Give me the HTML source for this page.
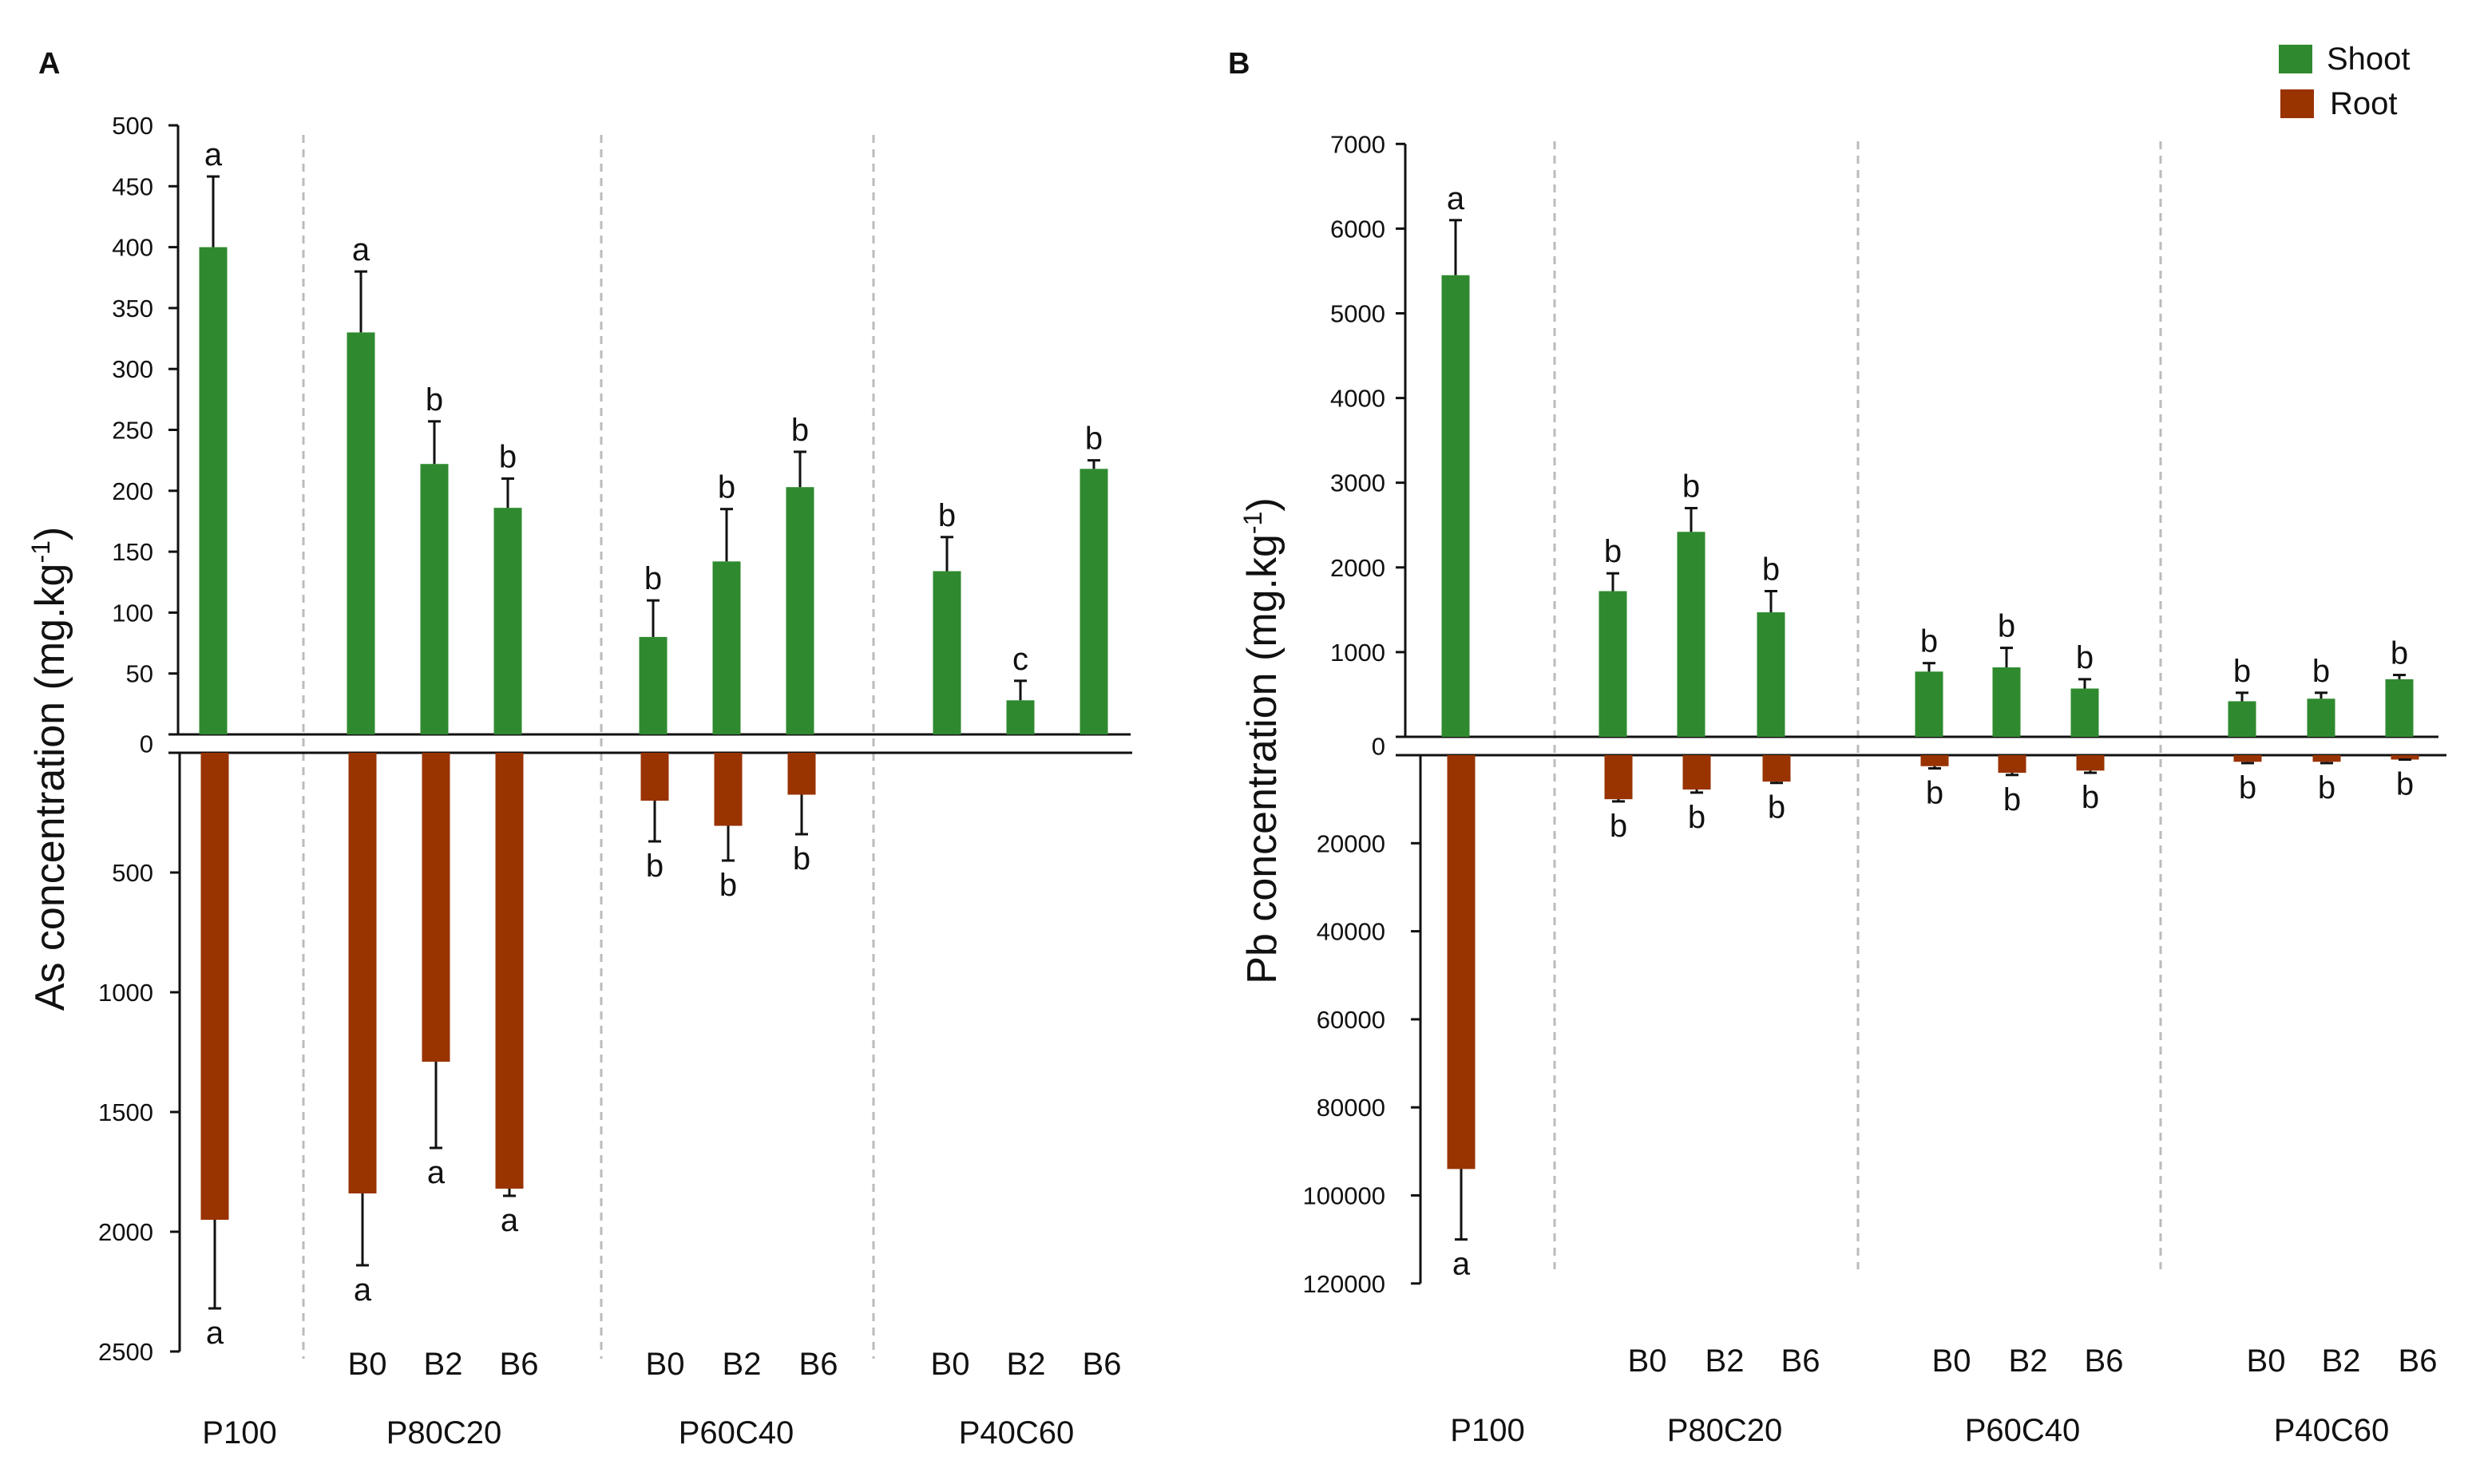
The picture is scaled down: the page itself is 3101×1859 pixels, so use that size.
<!DOCTYPE html>
<html><head><meta charset="utf-8"><style>
html,body{margin:0;padding:0;background:#fff}
svg{display:block;font-family:"Liberation Sans",sans-serif}
</style></head><body>
<svg id="chart" width="3101" height="1859" viewBox="0 0 3101 1859"></svg>
<script>
const groups = ["P100","P80C20","P60C40","P40C60"];
const treatments = ["", "B0","B2","B6","B0","B2","B6","B0","B2","B6"];
const asShoot = [400,330,222,186,80,142,203,134,28,218];
const asShootErr = [458,380,257,210,110,185,232,162,44,225];
const asShootLetters = ["a","a","b","b","b","b","b","b","c","b"];
const asRoot = [1950,1840,1290,1820,200,305,175,null,null,null];
const asRootErr = [2320,2140,1650,1850,370,450,340,null,null,null];
const asRootLetters = ["a","a","a","a","b","b","b","","",""];
const asTopTicks = [0,50,100,150,200,250,300,350,400,450,500];
const asBotTicks = [500,1000,1500,2000,2500];
const pbShoot = [5450,1720,2420,1470,770,820,570,420,450,680];
const pbShootErr = [6100,1930,2700,1720,870,1050,680,520,520,730];
const pbShootLetters = ["a","b","b","b","b","b","b","b","b","b"];
const pbRoot = [94000,10000,7800,6000,2500,4000,3500,1500,1500,1000];
const pbRootErr = [110000,10500,8500,6300,3000,4500,4000,1800,1800,1000];
const pbRootLetters = ["a","b","b","b","b","b","b","b","b","b"];
const pbTopTicks = [0,1000,2000,3000,4000,5000,6000,7000];
const pbBotTicks = [20000,40000,60000,80000,100000,120000];

const NS="http://www.w3.org/2000/svg";
const svg=document.getElementById('chart');
function mk(tag,attrs,parent){const e=document.createElementNS(NS,tag);for(const k in attrs)e.setAttribute(k,attrs[k]);(parent||svg).appendChild(e);return e;}
function txt(s,x,y,size,anchor,parent,extra){const t=mk('text',Object.assign({x:x,y:y,'font-size':size,'text-anchor':anchor||'middle',fill:'#111'},extra||{}),parent);t.textContent=s;return t;}
const GREEN="#2f8a2f", RED="#993300";

function panel(cfg){
  const g=mk('g',{});
  
  
  cfg.seps.forEach(x=>{const l=mk('line',{x1:x,x2:x,y1:cfg.sepY[0],y2:cfg.sepY[1],stroke:'#bbb','stroke-width':3,'stroke-dasharray':'10,8'},g);
    });
  const ax=mk('g',{},g);
  mk('line',{x1:cfg.axX,x2:cfg.axX,y1:cfg.topY(cfg.topTicks[cfg.topTicks.length-1]),y2:cfg.topY(0),stroke:'#111','stroke-width':3},ax);
  mk('line',{x1:cfg.axX2,x2:cfg.axX2,y1:cfg.botY(0),y2:cfg.botY(cfg.botTicks[cfg.botTicks.length-1]),stroke:'#111','stroke-width':3},ax);
  mk('line',{x1:cfg.axX-12,x2:cfg.lineEnd[0],y1:cfg.topY(0),y2:cfg.topY(0),stroke:'#111','stroke-width':3},ax);
  mk('line',{x1:cfg.axX-12,x2:cfg.lineEnd[1],y1:cfg.botY(0),y2:cfg.botY(0),stroke:'#111','stroke-width':3},ax);
  cfg.topTicks.forEach(v=>{const y=cfg.topY(v);
    mk('line',{x1:cfg.axX-12,x2:cfg.axX,y1:y,y2:y,stroke:'#111','stroke-width':3},ax);
    if(v!==0){const t=txt(String(v),cfg.lblX,y+11,31,'end',ax);}});
  txt("0",cfg.lblX,(cfg.topY(0)+cfg.botY(0))/2+11,31,'end',ax);
  cfg.botTicks.forEach(v=>{const y=cfg.botY(v);
    mk('line',{x1:cfg.axX2-12,x2:cfg.axX2,y1:y,y2:y,stroke:'#111','stroke-width':3},ax);
    const t=txt(String(v),cfg.lblX,y+11,31,'end',ax);});
  const tt=txt("",cfg.titleX,cfg.titleY,52,'middle',g,{transform:`rotate(-90 ${cfg.titleX} ${cfg.titleY})`});
  tt.innerHTML=cfg.titleMetal+' concentration (mg.kg<tspan dy="-18" font-size="32">-1</tspan><tspan dy="18">)</tspan>';
  
  const pl=txt(cfg.letter,cfg.letterX,92,38,'start',g,{'font-weight':'bold'});
  
  const bw=35;
  cfg.shoot.forEach((v,i)=>{
    const x=cfg.barX[i];
    const y=cfg.topY(v), y0=cfg.topY(0);
    const r=mk('rect',{x:x-bw/2,y:y,width:bw,height:y0-y,fill:GREEN},g);
    
    const ye=cfg.topY(cfg.shootErr[i]);
    mk('line',{x1:x,x2:x,y1:y,y2:ye,stroke:'#111','stroke-width':3},g);
    mk('line',{x1:x-8,x2:x+8,y1:ye,y2:ye,stroke:'#111','stroke-width':3},g);
    const l=txt(cfg.shootL[i],x,ye-14,40,'middle',g);
  });
  cfg.root.forEach((v,i)=>{
    if(v===null)return;
    const x=cfg.barX[i]+cfg.rootOff;
    const y0=cfg.botY(0), y=cfg.botY(v);
    const r=mk('rect',{x:x-bw/2,y:y0,width:bw,height:y-y0,fill:RED},g);
    
    const ye=cfg.botY(cfg.rootErr[i]);
    mk('line',{x1:x,x2:x,y1:y,y2:ye,stroke:'#111','stroke-width':3},g);
    mk('line',{x1:x-8,x2:x+8,y1:ye,y2:ye,stroke:'#111','stroke-width':3},g);
    const l=txt(cfg.rootL[i],x,ye+44,40,'middle',g);
  });
  treatments.forEach((s,i)=>{if(!s)return;const t=txt(s,cfg.tX[i],cfg.tY,40,'middle',g);});
  groups.forEach((s,i)=>{const t=txt(s,cfg.gX[i],cfg.gY,40,'middle',g);});
}

panel({name:'panel-a-as',letter:'A',letterX:48,titleMetal:'As',titleX:80,titleY:963,
  axX:223,axX2:225,lblX:192,lineEnd:[1416,1418],
  topY:v=>920-v*1.526, botY:v=>943+v*0.3,
  topTicks:asTopTicks,botTicks:asBotTicks,
  seps:[380,753,1094],sepY:[169,1702],
  barX:[267,452,544,636,818,910,1002,1186,1278,1370],rootOff:2,
  shoot:asShoot,shootErr:asShootErr,shootL:asShootLetters,
  root:asRoot,rootErr:asRootErr,rootL:asRootLetters,
  tX:[0,460,555,650,833,929,1025,1190,1285,1380],tY:1722,
  gX:[300,556,922,1273],gY:1808});

panel({name:'panel-b-pb',letter:'B',letterX:1538,titleMetal:'Pb',titleX:1598,titleY:928,
  axX:1760,axX2:1779,lblX:1735,lineEnd:[3054,3064],
  topY:v=>923-v*0.1061, botY:v=>946+v*0.005515,
  topTicks:pbTopTicks,botTicks:pbBotTicks,
  seps:[1947,2327,2706],sepY:[177,1590],
  barX:[1823,2020,2118,2218,2416,2513,2611,2808,2907,3005],rootOff:7,
  shoot:pbShoot,shootErr:pbShootErr,shootL:pbShootLetters,
  root:pbRoot,rootErr:pbRootErr,rootL:pbRootLetters,
  tX:[0,2063,2160,2255,2444,2540,2635,2838,2932,3028],tY:1718,
  gX:[1863,2160,2533,2920],gY:1805});

const lg=mk('g',{});


const ls=mk('rect',{x:2854,y:56,width:42,height:36,fill:GREEN},lg);


const lt1=txt("Shoot",2914,87,40,'start',lg);


const lr=mk('rect',{x:2856,y:112,width:42,height:36,fill:RED},lg);


const lt2=txt("Root",2918,143,40,'start',lg);


</script>
</body></html>
